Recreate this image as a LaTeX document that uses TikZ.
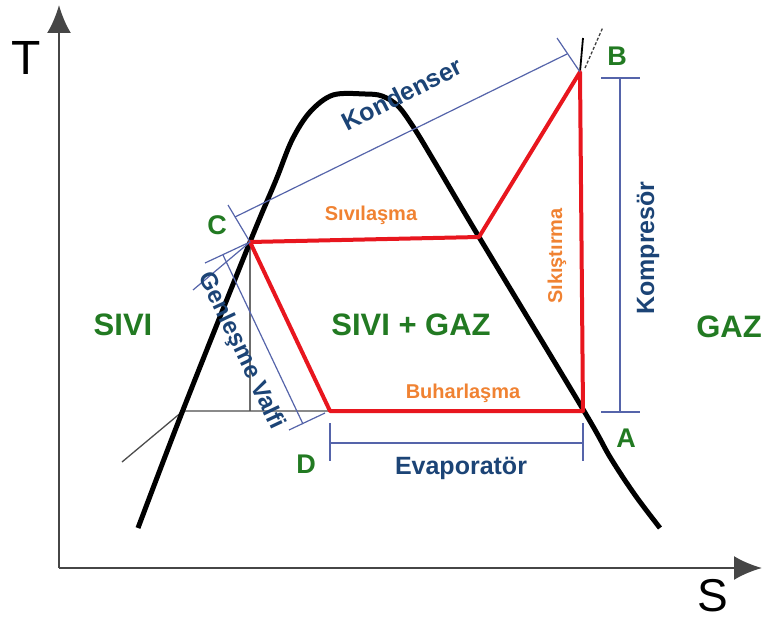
\documentclass[tikz,border=0pt]{standalone}
\usepackage{fontspec}
\setmainfont{Liberation Sans}
\usetikzlibrary{arrows.meta}
\definecolor{cgreen}{RGB}{34,122,34}
\definecolor{cblue}{RGB}{28,68,118}
\definecolor{corange}{RGB}{240,130,50}
\definecolor{cred}{RGB}{232,22,30}
\definecolor{cdim}{RGB}{85,100,170}
\definecolor{caxis}{RGB}{70,70,70}
\newcommand{\fsz}[1]{\fontsize{#1}{#1}\selectfont}
\begin{document}
\begin{tikzpicture}[x=1pt,y=-1pt,
  axis/.style={line width=2.6pt, draw=caxis, -{Latex[length=28pt,width=24pt]}},
  satcurve/.style={line width=5pt, black, line join=round},
  cycle/.style={line width=4pt, cred, line join=round},
  dimline/.style={line width=1.2pt, cdim},
  thin/.style={line width=1.4pt, draw=gray!85!black},
  lbl/.style={inner sep=0pt, font=\bfseries},
  green/.style={lbl, text=cgreen},
  blue/.style={lbl, text=cblue},
  orange/.style={lbl, text=corange}]
\useasboundingbox (0,0) rectangle (766,623);
% named points
\coordinate (O) at (59,568);
\coordinate (Ty) at (59,5);
\coordinate (Sx) at (762,568);
\coordinate (C) at (250,242);
\coordinate (E) at (479,237);
\coordinate (B) at (580,72);
\coordinate (A) at (583,411);
\coordinate (Dp) at (330,411);
\coordinate (L) at (183,411);
\coordinate (Lt) at (122,462);
\coordinate (Cv) at (250,411);
% axes
\draw[axis] (O) -- (Ty);
\draw[axis] (O) -- (Sx);
\node[lbl, font=\fsz{48}] (T) at (26,58) {T};
\node[lbl, font=\fsz{46}] (S) at (713,596) {S};
% thin helper lines
\draw[thin] (C) -- (Cv);
\draw[line width=1.3pt, draw=black!70] (Lt) -- (L) -- (Dp);
% saturation curve
\draw[satcurve] plot[smooth, tension=0.55] coordinates {(138,528) (183,410) (250,242) (276,180) (292,140) (310,112) (333,95) (365,94) (382,96) (398,106) (414,128) (434,161) (479,237) (584,411) (610,457) (635,495) (660,528)};
% above B
\draw[line width=1.8pt, black] (583,38) -- (B);
\draw[line width=1.3pt, black!75, dashed, dash pattern=on 3pt off 2pt] (585,68) -- (603,27);
% cycle
\draw[cycle] (C) -- (E) -- (B) -- (A) -- (Dp) -- cycle;
% Kondenser dimension
\coordinate (K1) at (235,217);
\coordinate (K2) at (567,54);
\draw[dimline] (C) -- (228,205);
\draw[dimline] (B) -- (557,38);
\draw[dimline] (K1) -- (K2);
% Genlesme valfi dimension
\coordinate (G1) at (223,255);
\coordinate (G2) at (303,424);
\draw[dimline] (C) -- (205,263);
\draw[dimline] (C) -- (193,290);
\draw[dimline] (325,413) -- (289,430);
\draw[dimline] (G1) -- (G2);
% Kompresor dimension
\draw[dimline] (620,78) -- (620,412);
\draw[dimline] (601,78) -- (640,78);
\draw[dimline] (601,412) -- (640,412);
% Evaporator dimension
\draw[dimline] (330,443) -- (583,443);
\draw[dimline] (330,423) -- (330,461);
\draw[dimline] (583,423) -- (583,461);
% labels
\node[green, font=\bfseries\fsz{27}] (lC) at (217,225) {C};
\node[green, font=\bfseries\fsz{27}] (lB) at (617,56) {B};
\node[green, font=\bfseries\fsz{27}] (lA) at (626,438) {A};
\node[green, font=\bfseries\fsz{27}] (lD) at (306,464) {D};
\node[green, font=\bfseries\fsz{31}] (sivi) at (123,325) {SIVI};
\node[green, font=\bfseries\fsz{31}] (sg) at (411,325) {SIVI + GAZ};
\node[green, font=\bfseries\fsz{31}] (gaz) at (729,327) {GAZ};
\node[orange, font=\bfseries\fsz{20}] (siv) at (371,215) {Sıvılaşma};
\node[orange, font=\bfseries\fsz{20}] (buh) at (463,393) {Buharlaşma};
\node[orange, font=\bfseries\fsz{20}, rotate=90] (sik) at (557,256) {Sıkıştırma};
\node[blue, font=\bfseries\fsz{25}] (evap) at (461,468) {Evaporatör};
\node[blue, font=\bfseries\fsz{25}, rotate=90] (komp) at (648,248) {Kompresör};
\node[blue, font=\bfseries\fsz{25}, rotate=27] (kond) at (402,94) {Kondenser};
\node[blue, font=\bfseries\fsz{24}, rotate=-64.7] (genl) at (241,351) {Genleşme Valfi};
\end{tikzpicture}
\end{document}
